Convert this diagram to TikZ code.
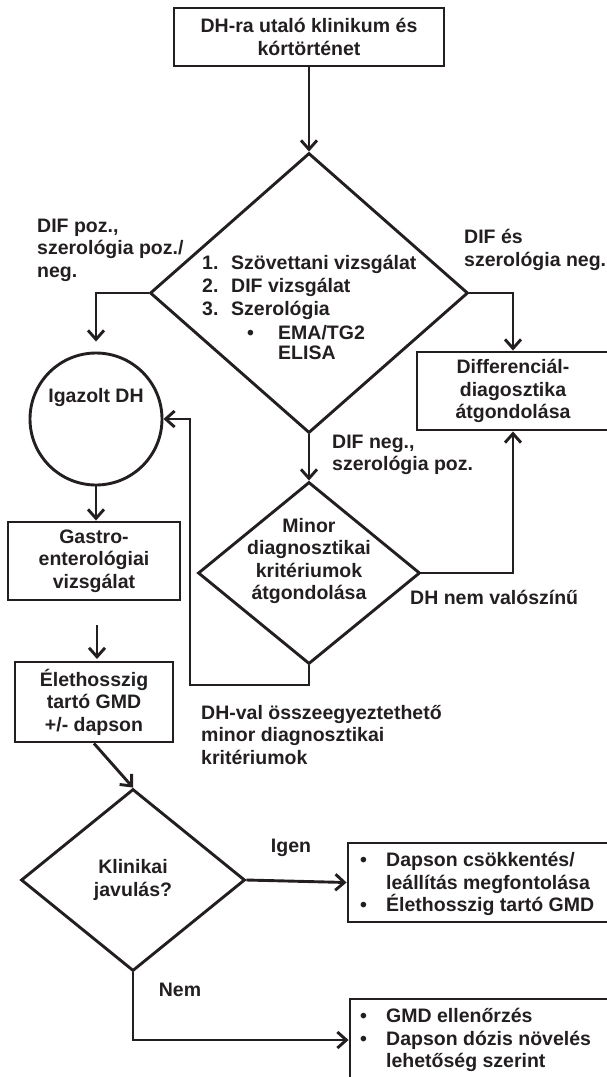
\documentclass[tikz,border=0pt]{standalone}
\usepackage{fontspec}
\setmainfont{Liberation Sans}
\usetikzlibrary{arrows.meta,shapes.geometric}
\definecolor{ink}{HTML}{231F20}
\tikzset{
  every node/.style={font=\bfseries\fontsize{19.5}{22.5}\selectfont, text=ink, inner sep=0pt},
  shp/.style={draw=ink, line width=2.9pt},
  boxnode/.style={shp, rectangle, align=center},
  dia/.style={shp, diamond},
  txt/.style={align=center},
  lbl/.style={align=left, anchor=west},
  bl/.style={anchor=base west},
  arr/.style={draw=ink, line width=2.9pt, -{Straight Barb[length=9pt,width=16pt]}}
}
\begin{document}
\begin{tikzpicture}[x=1pt,y=-1pt]
\useasboundingbox (0,0) rectangle (606,1077);

% nodes
\node[boxnode, minimum width=270pt, minimum height=58pt] (top) at (309,37) {DH-ra utaló klinikum és\\kórtörténet};
\node[dia, minimum width=318pt, minimum height=280pt] (d1) at (309,293) {};
\node[bl] (l1) at (202,269) {1.};
\node[bl] (t1) at (231,269) {Szövettani vizsgálat};
\node[bl] (l2) at (202,292) {2.};
\node[bl] (t2) at (231,292) {DIF vizsgálat};
\node[bl] (l3) at (202,315) {3.};
\node[bl] (t3) at (231,315) {Szerológia};
\node[bl] (b1) at (247,339) {•};
\node[bl] (t4) at (278,339) {EMA/TG2};
\node[bl] (t5) at (278,359) {ELISA};

\node[shp, circle, minimum size=132pt] (circ) at (96,419) {};
\node[txt] (circt) at (96,397) {Igazolt DH};

\node[boxnode, minimum width=192pt, minimum height=78pt] (diff) at (513,391) {Differenciál-\\diagosztika\\átgondolása};

\node[dia, minimum width=222pt, minimum height=182pt] (d2) at (309,573) {};
\node[txt] (d2t) at (309,561) {Minor\\diagnosztikai\\kritériumok\\átgondolása};

\node[boxnode, minimum width=172pt, minimum height=78pt] (gastro) at (94,561) {Gastro-\\enterológiai\\vizsgálat};
\node[boxnode, minimum width=158pt, minimum height=80pt] (eleth) at (94,702) {Élethosszig\\tartó GMD\\+/- dapson};

\node[dia, minimum width=224pt, minimum height=182pt, align=center] (d3) at (133,880) {Klinikai\\javulás?};

\node[shp, rectangle, minimum width=261pt, minimum height=79pt] (igen) at (478.5,882.5) {};
\node[lbl] (igent) at (360,884) {\makebox[26pt][l]{•}Dapson csökkentés/\\\hspace*{26pt}leállítás megfontolása\\\makebox[26pt][l]{•}Élethosszig tartó GMD};

\node[shp, rectangle, minimum width=259pt, minimum height=82pt] (nem) at (479.5,1040) {};
\node[lbl] (nemt) at (360,1040) {\makebox[26pt][l]{•}GMD ellenőrzés\\\makebox[26pt][l]{•}Dapson dózis növelés\\\hspace*{26pt}lehetőség szerint};

% labels
\node[lbl] (lab1) at (37,250) {DIF poz.,\\szerológia poz./\\neg.};
\node[lbl] (lab2) at (464,250) {DIF és\\szerológia neg.};
\node[lbl] (lab3) at (332,455) {DIF neg.,\\szerológia poz.};
\node[lbl] (lab4) at (410,597) {DH nem valószínű};
\node[lbl] (lab5) at (201,735) {DH-val összeegyeztethető\\minor diagnosztikai\\kritériumok};
\node[txt] (lab6) at (291,848) {Igen};
\node[txt] (lab7) at (180,990) {Nem};

% connectors
\draw[arr] (top.south) -- (d1.north);
\draw[arr] (d1.west) -| ([yshift=10pt]circ.north);
\draw[arr] (d1.east) -| (diff.north);
\draw[arr] (d1.south) -- (d2.north);
\draw[arr] (d2.east) -| (diff.south);
\coordinate (lp) at (190,685);
\draw[arr] (d2.south) |- (lp) |- (circ.east);
\draw[arr] (circ.south) -- (circ.south |- gastro.north);
\coordinate (fa1) at (97,625);
\coordinate (fa2) at (97,659);
\draw[arr] (fa1) -- (fa2);
\draw[arr] (eleth.south) -- (d3.north);
\draw[arr] (d3.east) -- (igen.west);
\draw[arr] (d3.south) |- (nem.west);
\end{tikzpicture}
\end{document}
